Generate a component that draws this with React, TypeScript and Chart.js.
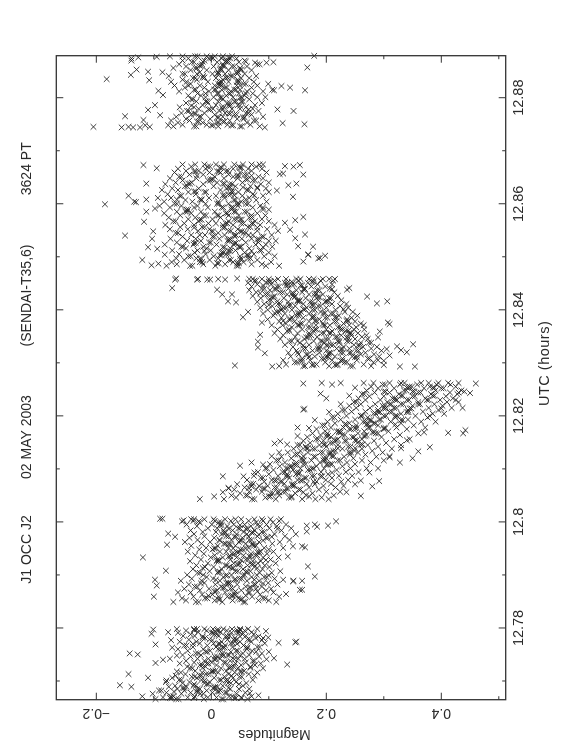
import React, { useEffect, useRef } from "react";
import { Chart, registerables } from "chart.js";

Chart.register(...registerables);

type Row = [number, number[]];

const utcMajor = [12.78, 12.8, 12.82, 12.84, 12.86, 12.88];
const utcMinor = [12.77, 12.79, 12.81, 12.83, 12.85, 12.87];
const utcLabels = ["12.78", "12.8", "12.82", "12.84", "12.86", "12.88"];
const magMajor = [-0.2, 0, 0.2, 0.4];
const magMinor = [-0.1, 0.1, 0.3, 0.5];
const magLabels = ["\u22120.2", "0", "0.2", "0.4"];
const titles = ["J1 OCC J2", "02 MAY 2003", "(SENDAI-T35,6)", "3624 PT"];
const titleUtc = [12.7948, 12.816, 12.8427, 12.8666];

const block1: Row[] = [
  [12.7666, [-.097, -.061, -.057, -.013, .018, .021, .063]],
  [12.7669, [-.084, -.041, -.006, .009, .052]],
  [12.7671, [-.07, -.066, -.029, .031, .036, .07]],
  [12.7676, [-.102, -.052, -.019, -.014, .044]],
  [12.7678, [-.078, -.036, .002, .024, .027, .059]],
  [12.7682, [-.091, -.087, -.047, -.008, .016]],
  [12.7685, [-.059, -.024, -.02, .033, .048, .066]],
  [12.7689, [-.074, -.043, .007, .011]],
  [12.7691, [-.063, -.031, -.027, .02, .055]],
  [12.7696, [-.05, -.012, .029, .034, .061]],
  [12.7698, [-.079, -.038, -.003, .043]],
  [12.7702, [-.056, -.052, -.017, .014, .017, .072]],
  [12.7706, [-.068, -.025, .005, .038]],
  [12.7708, [-.034, -.029, .023, .049, .053]],
  [12.7713, [-.045, -.009, -.005, .03, .065]],
  [12.7716, [-.053, -.016, .012, .041, .08]],
  [12.7719, [-.028, .003, .007, .026, .057]],
  [12.7724, [-.037, -.033, .017, .046, .09]],
  [12.7727, [-.042, -.01, .035, .039, .068]],
  [12.773, [-.02, -.016, .009, .052, .076]],
  [12.7735, [-.03, .001, .022, .025, .06]],
  [12.7738, [-.044, -.012, .033, .072, .075]],
  [12.7742, [-.024, -.005, .015, .047, .058]],
  [12.7746, [-.036, .006, .01, .04, .083]],
  [12.7749, [-.05, -.018, .028, .031, .066]],
  [12.7752, [-.027, -.023, .019, .055, .088]],
  [12.7757, [-.041, -.002, .043, .046, .071]],
  [12.776, [-.058, -.014, .012, .016, .062]],
  [12.7764, [-.032, .008, .037, .08, .084]],
  [12.7767, [-.047, -.043, -.007, .024, .056]],
  [12.7771, [-.02, .004, .034, .038, .093]],
  [12.7774, [-.055, -.026, .018, .05, .069]],
  [12.7778, [-.039, -.003, .028, .063, .067]],
  [12.7781, [-.015, -.011, .041, .077, .09]],
  [12.7785, [-.049, -.029, .013, .032, .06]],
  [12.7788, [-.036, .005, .009, .054, .074]],
  [12.7792, [-.023, .016, .045, .048, .07]],
  [12.7795, [-.044, -.008, .027, .058]],
  [12.7798, [-.06, -.03, -.025, -.012, .003, .021, .036, .05, .064, .08]],
  [12.7668, [-.072, -.069, -.03, .04, .043]],
  [12.768, [-.065, -.026, -.023, .01, .013]],
  [12.7687, [-.05, -.047, .003, .006, .03]],
  [12.7694, [-.03, -.008, -.005, .048]],
  [12.7701, [-.078, -.012, .025, .028]],
  [12.771, [-.062, -.02, -.017, .035, .075]],
  [12.7718, [-.06, 0, .003, .05, .053]],
  [12.7725, [-.015, .03, .033, .068]],
  [12.7733, [-.055, -.008, -.005, .042, .086]],
  [12.7741, [.005, .008, .04, .096]],
  [12.7748, [-.06, .018, .021, .05]],
  [12.7755, [-.01, -.007, .034, .078, .1]],
  [12.7763, [-.068, .02, .023, .06, .063]],
  [12.777, [-.032, .012, .015, .045]],
  [12.7777, [-.07, .002, .04, .043, .088]],
  [12.7784, [-.015, .025, .028, .05, .082]],
  [12.7791, [-.058, 0, .003, .035]],
  [12.7796, [-.03, .01, .013, .045, .05]],
];
const block1Sparse: [number, number][] = [
  [12.7752, -.142], [12.775, -.128], [12.7769, -.097], [12.7789, -.104], [12.7797, -.101], [12.7792, -.075],
  [12.7713, -.144], [12.7692, -.159], [12.7689, -.139], [12.7671, -.12], [12.7706, -.11], [12.7734, -.097],
  [12.774, -.084], [12.7742, -.072], [12.7773, .146], [12.7774, .148], [12.7731, .132], [12.7772, .117],
  [12.7743, .109], [12.7794, .095], [12.7782, .099], [12.7673, .082], [12.7677, .067], [12.7668, .053],
];

const block2: Row[] = [
  [12.7849, [-.066, -.027, -.022, .019, .056, .059, .113]],
  [12.7852, [-.044, .006, .037, .082, .1]],
  [12.7856, [-.051, -.011, -.007, .047, .09, .094]],
  [12.7859, [-.031, .013, .028, .071, .118]],
  [12.7863, [-.016, .002, .04, .043, .085]],
  [12.7867, [-.058, -.036, .024, .064, .067, .108]],
  [12.7871, [-.02, .01, .052, .095]],
  [12.7874, [-.047, -.004, .033, .037, .078, .104]],
  [12.7878, [-.029, -.025, .017, .06, .088]],
  [12.7882, [-.039, .007, .045, .074, .077, .115]],
  [12.7885, [-.012, .026, .029, .099]],
  [12.7889, [-.053, -.017, .015, .062, .083]],
  [12.7893, [-.034, .003, .049, .053, .11]],
  [12.7896, [-.008, .021, .07, .092, .096]],
  [12.79, [-.042, -.014, .035, .058, .079]],
  [12.7904, [-.024, -.02, .011, .084, .105]],
  [12.7907, [-.003, .042, .046, .068, .12]],
  [12.7911, [-.032, .018, .055, .089]],
  [12.7915, [-.011, .004, .031, .075, .101]],
  [12.7918, [-.026, .024, .027, .063, .093]],
  [12.7922, [-.006, .039, .05, .081, .112]],
  [12.7926, [-.037, .009, .013, .072, .086]],
  [12.7929, [-.018, .033, .06, .064, .103]],
  [12.7933, [-.001, .02, .044, .09, .117]],
  [12.7937, [-.028, .006, .056, .077, .08]],
  [12.794, [-.013, .036, .04, .069, .097]],
  [12.7944, [-.041, .015, .026, .086, .108]],
  [12.7948, [-.021, .002, .051, .055, .1]],
  [12.7951, [-.009, .03, .065, .092, .125]],
  [12.7955, [-.035, .011, .042, .074, .078]],
  [12.7959, [-.017, .022, .025, .06, .106]],
  [12.7962, [-.046, -.002, .048, .083, .119]],
  [12.7966, [-.024, .014, .035, .066, .07, .136]],
  [12.797, [-.038, .005, .054, .095, .098]],
  [12.7973, [-.012, .026, .03, .08, .128]],
  [12.7977, [-.03, .018, .044, .062, .11, .147]],
  [12.7981, [-.015, .008, .056, .088, .092]],
  [12.7984, [-.036, .021, .037, .075, .122]],
  [12.7988, [-.006, .01, .047, .05, .101, .139]],
  [12.7992, [-.025, .028, .069, .085, .114]],
  [12.7995, [-.043, .001, .039, .058, .096, .13]],
  [12.7999, [-.02, .013, .017, .078, .107]],
  [12.8002, [-.031, .006, .034, .065, .09, .118]],
  [12.8005, [-.035, -.03, -.012, .004, .024, .042, .052, .075, .088, .103, .121]],
  [12.7854, [.012, .015, .05, .053]],
  [12.7861, [-.005, .034, .037, .06]],
  [12.7869, [.005, .008, .042, .08]],
  [12.7876, [.02, .023, .066, .069]],
  [12.7884, [-.018, .03, .033, .09]],
  [12.7891, [.008, .04, .043, .075]],
  [12.7899, [.025, .028, .055, .1]],
  [12.7906, [.012, .015, .06, .063]],
  [12.7913, [-.015, .035, .038, .08]],
  [12.792, [.045, .048, .07, .073]],
  [12.7928, [.01, .013, .052, .095]],
  [12.7935, [.03, .033, .066, .069]],
  [12.7943, [.045, .048, .08, .083]],
  [12.795, [.005, .008, .038, .06]],
  [12.7958, [.03, .033, .07, .073]],
  [12.7965, [.015, .05, .053, .09]],
  [12.7972, [.04, .043, .065, .105]],
  [12.798, [.022, .025, .07, .073]],
  [12.7987, [.03, .06, .063, .115]],
  [12.7994, [.015, .018, .05, .08]],
];
const block2Sparse: [number, number][] = [
  [12.7993, .166], [12.7995, .18], [12.7991, .184], [12.7993, .203], [12.8001, .217], [12.7916, .168],
  [12.7897, .18], [12.7889, .158], [12.7872, .158], [12.7952, .163], [12.7982, .166], [12.7933, -.119],
  [12.7908, -.079], [12.7891, -.098], [12.788, -.095], [12.7859, -.1], [12.8006, -.089], [12.8006, -.085],
  [12.7957, -.077], [12.7978, -.075], [12.7972, -.063], [12.8001, -.051], [12.8003, -.048], [12.8001, -.022],
  [12.7954, .142], [12.7954, .158], [12.7935, .133], [12.7891, .125], [12.7888, .142], [12.7889, .143],
  [12.7872, .154], [12.7976, .083], [12.7864, .13],
];

const block3: Row[] = [
  [12.8043, [.022, .071, .075, .112, .158, .181, .204]],
  [12.8046, [.043, .094, .135, .139, .192]],
  [12.805, [.035, .06, .063, .118, .165, .213]],
  [12.8054, [.05, .103, .107, .146, .176]],
  [12.8057, [.066, .088, .125, .129, .2, .224]],
  [12.8061, [.04, .078, .152, .155, .187]],
  [12.8065, [.058, .11, .114, .17, .216]],
  [12.8068, [.083, .098, .141, .144, .195, .23]],
  [12.8072, [.069, .073, .127, .166, .208]],
  [12.8076, [.092, .12, .123, .178, .183, .226]],
  [12.8079, [.062, .105, .15, .199, .238]],
  [12.8083, [.086, .09, .136, .162, .165, .21]],
  [12.8087, [.074, .116, .175, .179, .222, .245]],
  [12.809, [.1, .132, .147, .152, .203]],
  [12.8094, [.081, .124, .128, .191, .234, .256]],
  [12.8098, [.108, .142, .168, .172, .218]],
  [12.8101, [.094, .097, .155, .196, .242, .27]],
  [12.8105, [.119, .137, .14, .183, .228]],
  [12.8109, [.102, .16, .164, .207, .21, .25]],
  [12.8112, [.128, .148, .189, .236, .277]],
  [12.8116, [.113, .117, .174, .22, .224, .262]],
  [12.812, [.139, .158, .196, .2, .247]],
  [12.8123, [.122, .178, .181, .231, .287]],
  [12.8127, [.146, .15, .205, .241, .268]],
  [12.8131, [.133, .168, .19, .194, .255, .298]],
  [12.8134, [.155, .212, .216, .249, .28]],
  [12.8138, [.143, .176, .18, .228, .262, .314]],
  [12.8142, [.164, .2, .238, .242, .29]],
  [12.8145, [.15, .154, .188, .22, .272, .33]],
  [12.8149, [.172, .207, .211, .254, .304]],
  [12.8153, [.16, .195, .232, .235, .283]],
  [12.8156, [.182, .186, .22, .262, .318, .345]],
  [12.816, [.167, .208, .245, .248, .296]],
  [12.8164, [.19, .228, .232, .27, .328]],
  [12.8167, [.176, .202, .255, .286, .29, .36]],
  [12.8171, [.198, .218, .222, .266, .308]],
  [12.8175, [.183, .24, .243, .3, .34]],
  [12.8178, [.208, .23, .273, .276, .322, .372]],
  [12.8182, [.193, .197, .252, .29, .352]],
  [12.8186, [.215, .24, .282, .285, .33]],
  [12.8189, [.202, .264, .268, .312, .365, .39]],
  [12.8193, [.225, .25, .292, .295, .342]],
  [12.8197, [.21, .214, .272, .32, .376]],
  [12.82, [.235, .26, .3, .304, .355]],
  [12.8204, [.22, .282, .286, .33, .385, .405]],
  [12.8208, [.244, .268, .31, .314, .368]],
  [12.8211, [.228, .232, .29, .342, .395]],
  [12.8215, [.252, .276, .318, .322, .378, .418]],
  [12.8219, [.24, .298, .302, .35, .402]],
  [12.8222, [.26, .285, .33, .334, .388]],
  [12.8226, [.248, .252, .306, .36, .41, .43]],
  [12.823, [.268, .294, .34, .344, .398]],
  [12.8233, [.256, .315, .319, .372, .42]],
  [12.8237, [.275, .3, .35, .354, .408]],
  [12.8241, [.262, .266, .326, .382, .428]],
  [12.8244, [.284, .31, .36, .364, .415]],
  [12.8248, [.27, .335, .339, .39, .435]],
  [12.8252, [.29, .318, .37, .4, .404]],
  [12.8255, [.278, .345, .349, .38, .425]],
  [12.8259, [.21, .298, .302, .328, .358, .392, .416]],
  [12.8262, [.192, .225, .265, .282, .31, .33, .336, .365, .378, .395, .412, .43]],
  [12.8048, [.005, .1, .103, .14, .17]],
  [12.8056, [.02, .115, .118, .16, .235]],
  [12.8063, [.03, .09, .093, .13, .133]],
  [12.8071, [.045, .14, .143, .18, .25]],
  [12.8078, [.11, .113, .155, .158, .26]],
  [12.8086, [.056, .13, .133, .19, .193]],
  [12.8093, [.075, .15, .153, .21, .275]],
  [12.8101, [.13, .133, .175, .178, .29]],
  [12.8108, [.09, .145, .148, .2, .203]],
  [12.8116, [.158, .161, .195, .198, .3]],
  [12.8124, [.105, .16, .21, .213, .31]],
  [12.8131, [.118, .205, .208, .24, .243]],
  [12.8139, [.165, .168, .22, .25, .33]],
  [12.8146, [.132, .195, .198, .26, .263]],
  [12.8154, [.215, .218, .25, .253, .34]],
  [12.8162, [.15, .2, .203, .265, .268]],
  [12.8169, [.222, .225, .28, .283, .37]],
  [12.8177, [.17, .25, .253, .3, .303]],
  [12.8184, [.232, .235, .27, .273, .32]],
  [12.8192, [.18, .275, .278, .33, .333]],
  [12.82, [.26, .263, .32, .323, .38]],
  [12.8207, [.205, .29, .293, .34, .343]],
  [12.8214, [.3, .303, .345, .348, .4]],
  [12.8222, [.225, .31, .313, .36, .363]],
  [12.823, [.32, .323, .375, .378, .425]],
  [12.8238, [.24, .33, .333, .385, .388]],
  [12.8246, [.3, .303, .35, .353, .44]],
  [12.8253, [.25, .34, .343, .385, .388]],
];
const block3Sparse: [number, number][] = [
  [12.8043, -.02], [12.8064, .065], [12.8067, .07], [12.8064, .03], [12.8086, .02], [12.8106, .05],
  [12.8112, .07], [12.8148, .11], [12.8152, .12], [12.8178, .15], [12.8212, .16], [12.8213, .162],
  [12.8233, .2], [12.8261, .16], [12.8242, .19], [12.8261, .46], [12.8244, .43], [12.8243, .45],
  [12.8215, .437], [12.8173, .442], [12.8167, .438], [12.8168, .412], [12.8141, .38], [12.8133, .36],
  [12.812, .35], [12.8122, .31], [12.8112, .328], [12.8077, .292], [12.8067, .28], [12.8049, .26],
];

const block4: Row[] = [
  [12.8294, [.118, .16, .163, .205, .242, .246, .278]],
  [12.8297, [.13, .183, .22, .265]],
  [12.8301, [.145, .149, .198, .232, .236, .282]],
  [12.8305, [.125, .172, .21, .253, .29]],
  [12.8308, [.158, .192, .196, .228, .272, .275]],
  [12.8312, [.138, .18, .215, .245, .292]],
  [12.8316, [.152, .165, .168, .204, .26, .283]],
  [12.8319, [.134, .188, .225, .229, .268]],
  [12.8323, [.148, .176, .2, .252, .256, .296]],
  [12.8327, [.16, .164, .218, .24, .278]],
  [12.833, [.142, .186, .19, .23, .264, .288]],
  [12.8334, [.128, .17, .208, .212, .248]],
  [12.8338, [.154, .196, .222, .26, .274, .278]],
  [12.8341, [.136, .14, .178, .236, .24]],
  [12.8345, [.12, .162, .2, .204, .25, .272]],
  [12.8349, [.146, .184, .216, .219, .262]],
  [12.8352, [.125, .17, .174, .226, .244, .27]],
  [12.8356, [.11, .15, .192, .196, .255]],
  [12.836, [.132, .136, .178, .21, .234, .238]],
  [12.8363, [.115, .158, .2, .248, .266]],
  [12.8367, [.14, .168, .172, .22, .224, .252]],
  [12.8371, [.105, .124, .182, .206, .24]],
  [12.8374, [.13, .155, .158, .194, .23, .26]],
  [12.8378, [.118, .145, .17, .214, .218, .25]],
  [12.8382, [.098, .135, .138, .188, .236]],
  [12.8385, [.122, .16, .198, .202, .244]],
  [12.8389, [.108, .148, .152, .178, .222, .254]],
  [12.8393, [.09, .128, .17, .208, .212]],
  [12.8396, [.114, .118, .156, .19, .232, .246]],
  [12.84, [.098, .14, .176, .18, .216]],
  [12.8404, [.085, .126, .13, .166, .2, .238]],
  [12.8407, [.106, .146, .186, .19, .224]],
  [12.8411, [.092, .116, .12, .16, .21, .235]],
  [12.8415, [.08, .134, .172, .176, .198]],
  [12.8418, [.1, .104, .15, .154, .186, .226]],
  [12.8422, [.086, .126, .164, .205, .208]],
  [12.8426, [.072, .11, .142, .146, .18, .22]],
  [12.8429, [.094, .098, .132, .17, .194]],
  [12.8433, [.078, .12, .124, .158, .214]],
  [12.8437, [.066, .102, .148, .184, .188]],
  [12.844, [.088, .092, .134, .162, .206]],
  [12.8444, [.07, .114, .118, .174, .198]],
  [12.8448, [.08, .104, .14, .144, .185, .21]],
  [12.8451, [.064, .096, .128, .132, .168]],
  [12.8455, [.075, .078, .11, .152, .19, .212]],
  [12.8458, [.066, .072, .088, .1, .116, .13, .148, .155, .17, .178, .194, .205, .215]],
  [12.8296, [.175, .178, .215, .218, .3]],
  [12.8304, [.155, .158, .225, .228, .3]],
  [12.8311, [.17, .2, .203, .25, .253]],
  [12.8319, [.15, .205, .208, .24, .243]],
  [12.8326, [.185, .188, .225, .228, .305]],
  [12.8333, [.16, .2, .203, .255, .258]],
  [12.8341, [.15, .19, .193, .22, .223]],
  [12.8348, [.165, .168, .235, .238, .29]],
  [12.8356, [.17, .205, .208, .24, .243]],
  [12.8363, [.135, .18, .183, .225, .228]],
  [12.8371, [.15, .153, .195, .198, .265]],
  [12.8379, [.125, .18, .183, .235, .238]],
  [12.8386, [.14, .175, .178, .215, .218]],
  [12.8394, [.11, .15, .153, .195, .198]],
  [12.8401, [.12, .123, .16, .163, .23]],
  [12.8409, [.1, .135, .138, .175, .178]],
  [12.8416, [.115, .15, .153, .2, .203]],
  [12.8424, [.105, .108, .145, .185, .188]],
  [12.8431, [.085, .14, .143, .18, .183]],
  [12.8439, [.11, .113, .16, .163, .21]],
  [12.8446, [.09, .13, .133, .155, .158]],
  [12.8453, [.1, .103, .14, .175, .178]],
];
const block4Sparse: [number, number][] = [
  [12.8441, -.068], [12.8459, -.061], [12.8457, -.063], [12.8457, -.025], [12.8458, -.023], [12.8457, -.007],
  [12.8457, -.002], [12.8458, .012], [12.8457, .024], [12.8459, .045], [12.8438, .01], [12.8429, .019],
  [12.8429, .036], [12.8416, .029], [12.8414, .043], [12.8396, .064], [12.8386, .055], [12.8376, .088],
  [12.8353, .085], [12.834, .081], [12.8329, .081], [12.8318, .093], [12.8295, .041], [12.8293, .106],
  [12.8438, .236], [12.8425, .271], [12.8416, .306], [12.8412, .288], [12.8376, .307], [12.8373, .31],
  [12.8359, .293], [12.8335, .351], [12.8331, .323], [12.832, .34], [12.8324, .33], [12.8293, .354],
  [12.8293, .328], [12.8314, .31], [12.8441, .24],
];

const block5: Row[] = [
  [12.8483, [-.078, -.037, -.033, .007, .044, .047, .095, .118]],
  [12.8486, [-.06, -.014, .024, .07, .088]],
  [12.849, [-.069, -.02, -.016, .038, .056, .104]],
  [12.8494, [-.047, -.003, .031, .034, .08]],
  [12.8497, [-.061, -.026, .012, .064, .068]],
  [12.8501, [-.04, -.036, .004, .05, .092, .11]],
  [12.8505, [-.056, -.01, .026, .03, .074]],
  [12.8508, [-.029, .018, .021, .058, .1]],
  [12.8512, [-.068, -.024, -.001, .042, .084, .087]],
  [12.8516, [-.044, -.008, .033, .066]],
  [12.8519, [-.052, -.049, -.014, .048, .052, .106]],
  [12.8523, [-.031, .009, .039, .077, .095]],
  [12.8527, [-.06, -.004, -.001, .06, .082]],
  [12.853, [-.042, -.018, .028, .031, .1, .112]],
  [12.8534, [-.071, -.027, .014, .053, .07]],
  [12.8538, [-.05, .002, .005, .041, .088, .091]],
  [12.8541, [-.035, -.011, .023, .072, .105]],
  [12.8545, [-.062, -.058, .012, .056, .06]],
  [12.8549, [-.023, .03, .034, .08, .116]],
  [12.8552, [-.072, -.041, -.003, .046, .097]],
  [12.8556, [-.054, -.016, -.012, .064, .068]],
  [12.856, [-.08, -.03, .02, .038, .085, .11]],
  [12.8563, [-.047, -.005, .008, .052, .056]],
  [12.8567, [-.066, -.062, -.022, .03, .076, .1]],
  [12.8571, [-.04, .002, .04, .044, .088]],
  [12.8574, [-.074, -.028, .016, .066, .07]],
  [12.8578, [-.054, -.013, -.009, .048, .094]],
  [12.8582, [-.082, -.035, .025, .028, .08]],
  [12.8585, [-.06, -.018, .006, .058, .062]],
  [12.8589, [-.043, -.04, .035, .09, .1]],
  [12.8593, [-.072, -.006, .018, .021, .072]],
  [12.8596, [-.09, -.052, -.024, .046, .085]],
  [12.86, [-.064, -.06, -.01, .03, .06, .064]],
  [12.8604, [-.082, -.033, .012, .052, .096]],
  [12.8607, [-.045, -.017, .039, .042, .078]],
  [12.8611, [-.093, -.07, -.004, .023, .066]],
  [12.8615, [-.055, -.052, .008, .054, .09]],
  [12.8618, [-.076, -.027, .03, .034, .072]],
  [12.8622, [-.04, -.012, -.009, .047, .1]],
  [12.8626, [-.086, -.058, .016, .062, .065]],
  [12.8629, [-.068, -.022, .026, .08, .095]],
  [12.8633, [-.046, -.042, .004, .042, .068]],
  [12.8637, [-.08, -.014, .032, .036, .086]],
  [12.864, [-.062, -.034, .01, .054, .1]],
  [12.8644, [-.05, -.006, -.002, .072, .076]],
  [12.8648, [-.072, -.026, .022, .046, .09]],
  [12.8651, [-.056, -.052, .006, .038, .082]],
  [12.8655, [-.038, -.014, .03, .058, .062]],
  [12.8659, [-.064, -.003, .016, .05, .096]],
  [12.8662, [-.044, -.022, .026, .029, .07]],
  [12.8666, [-.058, -.01, .038, .064, .088]],
  [12.867, [-.035, -.006, -.002, .048, .078]],
  [12.8674, [-.05, -.028, -.012, .008, .022, .04, .055, .07, .084, .09]],
  [12.8488, [.01, .013, .045, .048]],
  [12.8496, [-.02, -.017, .05, .053]],
  [12.8503, [.015, .018, .062, .065]],
  [12.8511, [-.012, .03, .033, .07]],
  [12.8518, [.02, .023, .05, .09]],
  [12.8526, [-.03, -.027, .04, .043]],
  [12.8533, [.03, .033, .08, .083]],
  [12.8541, [-.02, .04, .043, .065]],
  [12.8548, [.0, .003, .05, .053]],
  [12.8555, [-.03, .02, .023, .08]],
  [12.8563, [.025, .028, .07, .073]],
  [12.857, [-.02, -.017, .05, .053]],
  [12.8578, [.01, .013, .03, .07]],
  [12.8585, [-.045, -.042, .04, .043]],
  [12.8593, [-.03, .035, .038, .09]],
  [12.86, [.01, .013, .045, .048]],
  [12.8608, [-.06, -.02, -.017, .06]],
  [12.8616, [.02, .023, .04, .075]],
  [12.8623, [-.03, -.027, .035, .038]],
  [12.8631, [.03, .033, .055, .08]],
  [12.8638, [-.04, -.037, .02, .023]],
  [12.8646, [.0, .003, .06, .063]],
  [12.8653, [-.025, .045, .048, .07]],
  [12.8661, [-.03, -.027, .01, .013]],
  [12.8668, [.015, .018, .05, .053]],
];
const block5Sparse: [number, number][] = [
  [12.8673, -.118], [12.8667, -.095], [12.8638, -.113], [12.8615, -.144], [12.8604, -.134], [12.8603, -.131],
  [12.8608, -.113], [12.8599, -.185], [12.8585, -.113], [12.8566, -.117], [12.8591, -.098], [12.8671, .128],
  [12.867, .143], [12.8673, .154], [12.8656, .119], [12.8657, .125], [12.8655, .16], [12.8635, .134],
  [12.8638, .148], [12.8625, .114], [12.8613, .142], [12.8575, .16], [12.8569, .146], [12.8564, .128],
  [12.854, -.15], [12.8548, -.101], [12.8534, -.103], [12.8518, -.11], [12.8515, -.094], [12.8494, -.12],
  [12.8484, -.104], [12.8487, -.092], [12.8523, -.081], [12.8504, -.081], [12.8551, .137], [12.8535, .146],
  [12.8542, .163], [12.852, .151], [12.8491, .16], [12.8504, .169], [12.8519, .177], [12.8504, .168],
  [12.8498, .189], [12.8502, .198], [12.8497, .186],
];

const block6: Row[] = [
  [12.8746, [-.066, -.03, -.026, .012, .05, .053, .084]],
  [12.8749, [-.05, -.008, .028, .068]],
  [12.8753, [-.058, -.015, .01, .013, .062]],
  [12.8757, [-.07, -.038, .032, .074, .078]],
  [12.876, [-.044, -.002, .045, .056]],
  [12.8764, [-.061, -.021, -.018, .02, .09]],
  [12.8768, [-.035, .006, .04, .044, .07]],
  [12.8771, [-.052, -.012, .024, .06, .064]],
  [12.8775, [-.042, -.039, .014, .082]],
  [12.8779, [-.022, .003, .036, .05, .072]],
  [12.8782, [-.055, -.03, .018, .022, .06]],
  [12.8786, [-.015, .008, .046, .076]],
  [12.879, [-.044, -.006, .028, .032, .088]],
  [12.8793, [-.026, .012, .052, .055]],
  [12.8797, [-.035, -.032, .02, .066]],
  [12.8801, [-.01, .004, .038, .08, .094]],
  [12.8804, [-.04, -.018, .026, .058]],
  [12.8808, [-.024, .01, .013, .048, .072]],
  [12.8812, [-.056, -.004, .034, .062, .09]],
  [12.8815, [-.03, -.027, .018, .05, .106]],
  [12.8819, [-.046, -.012, .024, .027, .07]],
  [12.8823, [-.064, -.02, .006, .044, .08]],
  [12.8826, [-.036, .012, .015, .056, .06]],
  [12.883, [-.07, -.043, -.006, .03, .074]],
  [12.8834, [-.05, -.025, .02, .046]],
  [12.8837, [-.032, -.028, .008, .052, .066]],
  [12.8841, [-.074, -.014, .034, .037, .078]],
  [12.8845, [-.05, -.046, .002, .024, .058]],
  [12.8848, [-.085, -.02, .012, .044, .047]],
  [12.8852, [-.036, -.008, .03, .07]],
  [12.8856, [-.066, -.028, -.025, .016, .05]],
  [12.8859, [-.044, .004, .036, .04, .062]],
  [12.8863, [-.056, -.016, .02, .08, .084]],
  [12.8867, [-.034, -.03, .01, .048]],
  [12.887, [-.05, -.012, .026, .03, .058]],
  [12.8874, [-.04, -.004, .018, .044]],
  [12.8878, [-.072, -.05, -.028, -.024, -.008, .006, .02, .036]],
  [12.8748, [.0, .003, .035, .038]],
  [12.8755, [-.025, -.022, .02, .023]],
  [12.8763, [.01, .013, .055, .058]],
  [12.877, [-.03, -.027, .03, .033]],
  [12.8778, [-.005, -.002, .02, .065]],
  [12.8785, [-.035, .03, .033, .05]],
  [12.8793, [-.01, -.007, .04, .043]],
  [12.88, [.015, .018, .05, .053]],
  [12.8808, [-.01, .03, .033, .06]],
  [12.8815, [.005, .008, .04, .043]],
  [12.8823, [-.04, .015, .018, .05]],
  [12.883, [.015, .018, .045, .048]],
  [12.8838, [-.015, -.012, .025, .028]],
  [12.8845, [-.025, .01, .013, .045]],
  [12.8853, [.015, .018, .05, .053]],
  [12.886, [-.02, -.017, .02, .023]],
  [12.8868, [-.015, .025, .028, .06]],
  [12.8875, [.0, .003, .03, .033]],
];
const block6Sparse: [number, number][] = [
  [12.8874, -.139], [12.887, -.139], [12.8876, -.127], [12.8877, -.095], [12.8843, -.14], [12.8853, -.13],
  [12.8835, -.182], [12.8849, -.11], [12.8833, -.108], [12.8813, -.092], [12.8805, -.084], [12.8777, -.11],
  [12.8786, -.098], [12.8765, -.15], [12.8767, -.089], [12.8758, -.118], [12.8744, -.156], [12.8745, -.144],
  [12.8744, -.136], [12.8744, -.124], [12.8748, -.115], [12.8745, -.107], [12.8745, -.205], [12.8748, -.075],
  [12.8857, .167], [12.8819, .137], [12.8814, .163], [12.8822, .122], [12.8826, .099], [12.8814, .109],
  [12.8775, .143], [12.8778, .115], [12.8752, .124], [12.875, .162], [12.8744, .093], [12.8866, .096],
  [12.8867, .108], [12.8866, .076], [12.8879, .179],
];

const rowBlocks = [block1, block2, block3, block4, block5, block6];
const sparseBlocks = [block1Sparse, block2Sparse, block3Sparse, block4Sparse, block5Sparse, block6Sparse];

const points = [
  ...rowBlocks.flat().flatMap(([utc, mags]) => mags.map((m) => ({ x: utc, y: m }))),
  ...sparseBlocks.flat().map(([utc, m]) => ({ x: utc, y: m })),
];

const INK = "#2a2a2a";
const MARK = "#1c1c1c";
const FONT = '"Liberation Sans", Arial, sans-serif';

const frame = {
  id: "frame",
  afterDatasetsDraw(chart: any) {
    const { ctx, chartArea: a, scales } = chart;
    const xs = scales.x;
    const ys = scales.y;
    ctx.save();
    ctx.strokeStyle = "#333";
    ctx.lineWidth = 1.3;
    ctx.strokeRect(a.left, a.top, a.right - a.left, a.bottom - a.top);
    ctx.lineWidth = 1;
    const tick = (x1: number, y1: number, x2: number, y2: number) => {
      ctx.beginPath();
      ctx.moveTo(x1, y1);
      ctx.lineTo(x2, y2);
      ctx.stroke();
    };
    const xTicks = (vals: number[], len: number) =>
      vals.forEach((v) => {
        const p = xs.getPixelForValue(v);
        tick(p, a.top, p, a.top + len);
        tick(p, a.bottom, p, a.bottom - len);
      });
    const yTicks = (vals: number[], len: number) =>
      vals.forEach((v) => {
        const p = ys.getPixelForValue(v);
        tick(a.left, p, a.left + len, p);
        tick(a.right, p, a.right - len, p);
      });
    xTicks(utcMajor, 7);
    xTicks(utcMinor, 3.5);
    yTicks(magMajor, 7);
    yTicks(magMinor, 3.5);

    ctx.fillStyle = INK;
    ctx.textBaseline = "alphabetic";
    ctx.textAlign = "center";
    ctx.font = `14px ${FONT}`;
    titles.forEach((t, i) => ctx.fillText(t, xs.getPixelForValue(titleUtc[i]), 31));

    ctx.font = `14.5px ${FONT}`;
    ctx.letterSpacing = "0.5px";
    ctx.fillText("UTC (hours)", xs.getPixelForValue(12.8299), 549);
    ctx.letterSpacing = "0px";

    const vertical = (text: string, x: number, y: number) => {
      ctx.save();
      ctx.translate(x, y);
      ctx.rotate(-Math.PI / 2);
      ctx.fillText(text, 0, 0);
      ctx.restore();
    };
    ctx.font = `14px ${FONT}`;
    magMajor.forEach((v, i) => vertical(magLabels[i], 47, ys.getPixelForValue(v)));
    vertical("Magnitudes", 26, ys.getPixelForValue(0.11));
    ctx.restore();
  },
};

export default function App() {
  const ref = useRef<HTMLCanvasElement>(null);
  useEffect(() => {
    const chart = new Chart(ref.current!, {
      type: "scatter",
      data: {
        datasets: [
          {
            data: points,
            pointStyle: "crossRot",
            pointRadius: 4,
            pointBorderWidth: 0.85,
            pointBorderColor: MARK,
            clip: false,
          } as any,
        ],
      },
      options: {
        animation: false,
        responsive: false,
        layout: { padding: { left: 56.3, right: 55.7, top: 56.3, bottom: 0 } },
        plugins: { legend: { display: false }, tooltip: { enabled: false } },
        scales: {
          x: {
            type: "linear",
            min: 12.76647,
            max: 12.88792,
            grid: { display: false, drawTicks: false },
            border: { display: false },
            afterFit: (s: any) => {
              s.height = 56.3;
            },
            afterBuildTicks: (s: any) => {
              s.ticks = utcMajor.map((v) => ({ value: v }));
            },
            ticks: {
              autoSkip: false,
              maxRotation: 0,
              minRotation: 0,
              padding: 5,
              color: INK,
              font: { family: FONT, size: 14.5 },
              callback: (v: any) => utcLabels[utcMajor.indexOf(v)] ?? "",
            },
          },
          y: {
            type: "linear",
            reverse: true,
            min: -0.2696,
            max: 0.512,
            grid: { display: false },
            border: { display: false },
            ticks: { display: false },
            afterFit: (s: any) => {
              s.width = 0;
            },
          },
        },
      },
      plugins: [frame],
    } as any);
    return () => chart.destroy();
  }, []);
  return (
    <div style={{ position: "fixed", left: 0, top: 0, width: 562, height: 756, overflow: "hidden", background: "#fff" }}>
      <canvas
        ref={ref}
        width={756}
        height={562}
        style={{
          position: "absolute",
          left: 0,
          top: 0,
          width: 756,
          height: 562,
          transformOrigin: "0 0",
          transform: "translateY(756px) rotate(-90deg)",
        }}
      />
    </div>
  );
}
